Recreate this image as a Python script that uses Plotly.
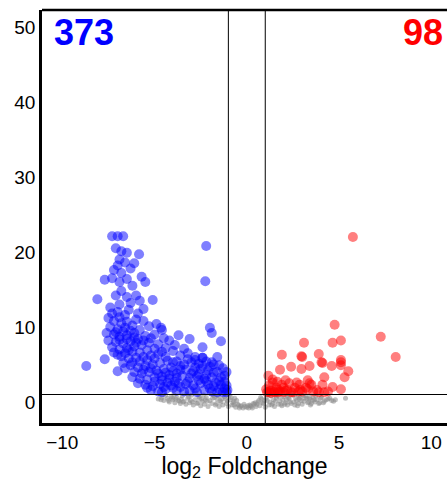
import plotly.graph_objects as go

# ---- data ----
blue_x = [-7.3, -7.0, -6.7, -7.1, -6.8, -6.5, -5.84, -6.9, -7.0, -6.6, -7.2, -6.8, -6.3, -6.1, -7.3, -6.9, -6.5, -7.7,
          -6.2, -5.7, -5.5, -6.8, -7.1, -6.5, -6.0, -5.8, -5.1, -8.1, -6.3, -6.9, -7.4, -7.0, -6.6, -5.6, -5.9,
          -7.5, -7.2, -6.8, -7.4, -7.0, -6.6, -6.2, -7.6, -7.2, -6.9, -6.5, -6.1, -5.8, -7.5, -7.1, -6.7, -6.3, -5.9,
          -5.5, -7.3, -6.9, -6.5, -6.1, -5.7, -5.3, -7.0, -6.6, -6.2, -5.8, -5.4, -5.0, -6.4, -6.0, -5.6, -5.2, -4.8,
          -7.7, -8.7, -7.0, -6.7, -4.6, -5.0, -5.3, -4.9, -5.6, -6.0, -6.4,
          -7.3, -6.9, -6.5, -7.1, -6.7, -6.3, -6.9, -6.5, -6.1, -7.2, -6.8, -6.4, -6.0, -5.6, -5.2, -5.0, -4.6, -4.4,
          -4.8, -6.6, -6.2, -5.8, -5.4,
          -6.3, -5.9, -5.5, -5.1, -4.7, -4.3, -6.1, -5.7, -5.3, -4.9, -4.5, -4.1, -5.8, -5.4, -5.0, -4.6, -4.2, -3.8,
          -5.5, -5.1, -4.7, -4.3, -3.9, -5.2, -4.8, -4.4, -4.0, -3.6,
          -5.6, -5.2, -4.8, -4.4, -4.0, -3.6, -5.0, -4.6, -4.2, -3.8, -4.5, -4.1, -3.7, -3.4, -3.8, -4.6, -5.4, -5.9,
          -6.2,
          -4.2, -3.9, -3.7, -3.1, -3.4, -4.0, -3.6, -3.2, -2.8, -4.4, -3.8, -3.4, -3.0, -2.6, -2.2, -3.3, -2.9, -2.5,
          -2.1, -3.5, -3.1, -2.7, -2.3, -1.9, -3.3, -2.9, -2.5, -2.1, -1.7, -3.1, -2.7, -2.3, -1.9, -1.5, -2.4, -2.0,
          -1.9, -1.4, -2.2, -2.25, -1.6, -1.3, -1.2, -1.5, -1.1, -1.3, -1.05, -1.8, -4.65, -4.5, -2.4, -1.9, -1.5,
          -1.1,
          -2.6, -2.2, -1.8, -1.4, -2.0, -1.6, -1.2, -2.8, -3.2, -3.0, -2.6, -2.2, -1.8, -1.4, -2.4, -2.0, -1.6, -2.8,
          -3.6, -3.2, -2.8, -2.4, -4.0, -1.2, -1.1]
blue_y = [22.1, 22.1, 22.1, 20.5, 20.1, 19.9, 19.7, 19.0, 18.2, 18.6, 17.6, 17.2, 17.8, 18.5, 16.5, 16.0, 16.4, 16.3,
          15.5, 16.7, 16.0, 14.8, 14.2, 14.0, 14.2, 13.5, 13.6, 13.7, 13.2, 13.0, 12.6, 12.0, 11.6, 12.4, 11.8,
          11.2, 10.8, 10.5, 10.0, 9.7, 9.9, 10.2, 9.2, 9.0, 8.7, 8.9, 9.2, 9.6, 8.2, 8.0, 7.8, 8.1, 8.4,
          8.8, 7.3, 7.0, 7.2, 7.4, 7.6, 7.9, 6.3, 6.5, 6.7, 6.6, 6.9, 7.1, 5.8, 5.9, 6.0, 6.2, 6.4,
          5.7, 4.8, 4.1, 5.2, 9.6, 9.0, 10.1, 10.4, 10.8, 11.0, 12.3,
          11.8, 11.3, 10.7, 9.3, 9.4, 9.5, 8.3, 8.4, 8.6, 6.6, 6.1, 6.9, 7.9, 8.2, 8.5, 5.8, 6.7, 7.2,
          7.7, 4.5, 5.3, 5.4, 5.6,
          4.9, 4.6, 4.8, 5.0, 5.2, 5.5, 4.0, 3.8, 4.0, 4.2, 4.4, 4.6, 3.1, 3.0, 3.3, 3.4, 3.6, 3.8,
          2.3, 2.1, 2.4, 2.6, 2.7, 1.6, 1.4, 1.7, 1.9, 2.0,
          4.3, 4.5, 3.8, 3.9, 4.1, 4.3, 2.7, 2.9, 3.1, 3.2, 2.0, 2.2, 2.5, 1.4, 1.5, 1.3, 1.9, 2.5,
          3.3,
          8.2, 7.6, 8.9, 8.4, 7.1, 6.8, 6.2, 6.5, 6.0, 6.0, 5.4, 5.0, 5.3, 5.1, 5.4, 4.3, 4.1, 4.4,
          4.2, 3.5, 3.2, 3.4, 3.1, 3.3, 2.4, 2.2, 2.5, 2.3, 2.6, 1.5, 1.3, 1.6, 1.4, 1.7, 7.3, 9.9,
          9.2, 8.1, 20.8, 16.1, 6.0, 4.5, 3.5, 2.8, 2.2, 1.3, 1.6, 5.0, 9.9, 8.5, 5.9, 5.3, 4.9,
          4.0,
          2.9, 2.8, 2.1, 2.3, 1.8, 1.3, 1.8, 1.8, 2.7, 3.8, 3.7, 3.6, 3.9, 3.3, 4.8, 4.7, 4.0, 4.6,
          4.8, 5.7, 5.6, 5.9, 5.3, 2.7, 1.3]

red_x = [5.75, 4.76, 7.26, 8.07, 3.1, 4.65, 5.1, 1.9, 2.96, 3.9, 5.1, 1.8, 2.4, 2.96, 3.4, 4.1, 4.6, 5.1, 5.5, 5.3,
         1.17, 2.1, 3.3, 4.2, 4.65, 5.1, 3.4, 3.2, 3.0, 4.05, 5.1, 3.5, 3.3, 4.1, 2.85, 4.2,
         1.1, 1.3, 1.5, 1.2, 1.6, 1.8, 2.0, 1.4, 1.9, 2.2, 2.4, 2.6, 2.8, 1.05, 1.7, 2.3, 2.1, 1.5, 1.2, 2.5, 3.0,
         2.9, 2.0, 1.3, 1.7, 3.6, 3.8, 4.4, 3.9, 2.7, 1.4, 1.65]
red_y = [22.0, 10.3, 8.7, 6.0, 7.9, 7.9, 8.2, 6.3, 6.1, 6.4, 5.6, 4.3, 4.7, 4.4, 4.8, 5.2, 4.8, 4.9, 4.1, 3.3,
         3.5, 2.9, 2.9, 3.3, 2.0, 1.7, 2.5, 1.9, 6.0, 5.3, 5.3, 2.3, 1.7, 2.3, 2.3, 1.3,
         1.3, 1.5, 1.3, 2.2, 1.9, 1.4, 1.3, 2.6, 2.3, 1.6, 1.3, 1.9, 1.4, 1.7, 1.3, 2.5, 1.5, 1.4, 1.4, 1.3, 1.4,
         1.6, 1.9, 1.2, 1.6, 1.4, 1.6, 1.4, 1.3, 2.6, 3.0, 2.7]

gray_x = [-4.8, -4.6, -4.5, -4.3, -4.2, -4.1, -4.0, -3.9, -3.8, -3.7, -3.6, -3.5, -3.4, -3.3, -3.2, -3.1, -3.0,
          -2.9, -2.8, -2.7, -2.6, -2.5, -2.4, -2.3, -2.2, -2.1, -2.0, -1.9, -1.8, -1.7, -1.6, -1.5, -1.4, -1.3,
          -1.2, -1.1, -1.0, -0.9, -0.8, -0.7, -0.6, -0.5, -0.4, -0.3, -0.2, -0.1, 0.0, 0.1, 0.2, 0.3, 0.4, 0.5,
          0.6, 0.7, 0.8, 0.9, 1.0, 1.1, 1.2, 1.3, 1.4, 1.5, 1.6, 1.7, 1.8, 1.9, 2.0, 2.1, 2.2, 2.3, 2.4, 2.5,
          2.6, 2.7, 2.8, 2.9, 3.0, 3.1, 3.2, 3.3, 3.4, 3.5, 3.6, 3.7, 3.8, 3.9, 4.0, 4.2, 4.4, 4.6, 4.5, 5.35,
          -4.4, -3.95, -3.25, -2.75, -2.35, -1.95, -1.55, -1.25, -0.95, -0.75, -0.65, -0.45, -0.15, 0.15, 0.35,
          0.55, 0.75, 0.95, 1.15, 1.35, 1.65, 1.85, 2.15, 2.45, 2.75, 3.05, 3.45, 3.75, 4.15, -2.15, -1.65, -1.35,
          -0.85, -0.55, -3.55, -2.55, -2.95, 1.45, 1.75, 2.05, 2.35, 2.65, 2.95, 3.25, 3.55, 4.8,
          -4.65, -4.25, -3.85, -3.45, -3.05, -2.65, -2.25, -1.85, -1.45, -1.05, -0.7, -0.35, 0.05, 0.25, 0.45,
          0.65, 0.85, 1.05, 1.25, 1.55, 1.95, 2.25, 2.55, 2.85, 3.15, 3.35, 3.65, 3.95, 4.3, 4.7,
          -4.05, -3.65, -3.15, -2.45, -1.75, -1.15, 1.6, 2.2, 2.8, 3.4, 4.05]
gray_y = [0.4, 0.6, 0.2, 0.5, 0.0, 0.7, 0.3, -0.1, 0.6, 0.2, -0.2, 0.8, 0.1, -0.3, 0.5, -0.1, 0.9,
          -0.4, 0.3, -0.2, 0.7, -0.5, 0.1, -0.3, 0.6, -0.6, 0.2, -0.2, 0.9, -0.4, 0.4, -0.6, 0.0, -0.4,
          0.7, -0.2, -0.6, 0.3, -0.4, 0.1, -0.7, -0.3, -0.8, -0.5, -0.8, -0.6, -0.7, -0.8, -0.5, -0.8, -0.3, -0.6,
          0.0, -0.5, 0.4, -0.2, -0.7, 0.2, -0.4, 0.8, -0.2, -0.6, 0.5, -0.3, 0.1, -0.5, 0.7, -0.1, -0.4, 0.4, -0.2,
          0.9, -0.4, 0.2, -0.2, 0.6, -0.3, 0.1, 0.8, -0.1, 0.4, -0.2, 0.6, 0.0, 0.3, -0.2, 0.5, 0.1, 0.4, 0.2,
          0.5, 0.5,
          0.9, 1.0, 1.1, 1.2, 0.95, 1.1, 0.85, 1.2, 0.9, -0.1, 0.5, -0.4, -0.3, -0.4, -0.2,
          -0.3, 0.6, 0.2, 1.0, -0.4, 1.1, -0.3, 0.3, 1.2, -0.5, 0.9, -0.4, 0.8, -0.1, 0.1, -0.2, 0.4,
          0.6, 0.2, 0.4, 0.5, 0.0, 0.3, 0.7, -0.3, 0.0, 0.5, 0.2, 0.5, 0.2, 0.3,
          0.3, 0.2, 0.4, 0.0, 0.2, -0.1, 0.3, 0.5, 0.2, 0.1, -0.4, -0.6, -0.5, -0.6, -0.1,
          0.2, -0.1, 0.5, 0.0, 0.1, 0.3, 0.6, 0.0, 0.4, 0.5, 0.0, 0.3, -0.1, 0.3, 0.1,
          0.5, 0.1, 0.7, 0.4, 0.6, 0.4, 0.8, 0.9, 0.8, 0.6, 0.6]

x_ticks = [-10, -5, 0, 5, 10]
y_ticks = [0, 10, 20, 30, 40, 50]
fc_threshold = [-1, 1]
p_threshold = 1.0
count_down = "373"
count_up = "98"

FONT = "Liberation Sans, Arial, Helvetica, sans-serif"

fig = go.Figure()
fig.add_trace(go.Scatter(x=gray_x, y=gray_y, mode="markers",
                         marker=dict(size=5, color="rgba(140,140,140,0.55)", line=dict(width=0)),
                         hoverinfo="skip"))
fig.add_trace(go.Scatter(x=blue_x, y=blue_y, mode="markers",
                         marker=dict(size=10, color="rgba(0,0,255,0.5)", line=dict(width=0))))
fig.add_trace(go.Scatter(x=red_x, y=red_y, mode="markers",
                         marker=dict(size=10, color="rgba(255,0,0,0.5)", line=dict(width=0))))

for xv in fc_threshold:
    fig.add_shape(type="line", xref="x", yref="paper", x0=xv, x1=xv, y0=0, y1=1,
                  line=dict(color="black", width=1), layer="above")
fig.add_shape(type="line", xref="paper", yref="y", x0=0, x1=1, y0=p_threshold, y1=p_threshold,
              line=dict(color="black", width=1), layer="above")
# top border of the frame
fig.add_shape(type="line", xref="paper", yref="paper", x0=0, x1=1, y0=1, y1=1,
              line=dict(color="black", width=2.5), layer="above")

fig.add_annotation(text=f"<b>{count_down}</b>", xref="paper", yref="paper", x=0.025, y=0.945,
                   xanchor="left", yanchor="middle", showarrow=False,
                   font=dict(family=FONT, size=36, color="#0000ff"))
fig.add_annotation(text=f"<b>{count_up}</b>", xref="paper", yref="paper", x=0.995, y=0.945,
                   xanchor="right", yanchor="middle", showarrow=False,
                   font=dict(family=FONT, size=36, color="#ff0000"))

fig.update_layout(
    width=447, height=486,
    margin=dict(l=42, r=0, t=10, b=63),
    paper_bgcolor="white", plot_bgcolor="white",
    showlegend=False,
    font=dict(family=FONT, size=19, color="black"),
    xaxis=dict(range=[-11.1, 10.85], tickvals=x_ticks, ticks="", showgrid=False, zeroline=False,
               showline=True, linecolor="black", linewidth=2.5, mirror=False,
               title=dict(text="log<sub>2</sub> Foldchange", font=dict(size=23), standoff=6),
               tickfont=dict(size=19)),
    yaxis=dict(range=[-2.8, 52.27], tickvals=y_ticks, ticks="", showgrid=False, zeroline=False,
               showline=True, linecolor="black", linewidth=2.5, mirror=False,
               tickfont=dict(size=19)),
)

fig.write_html("out.html")
